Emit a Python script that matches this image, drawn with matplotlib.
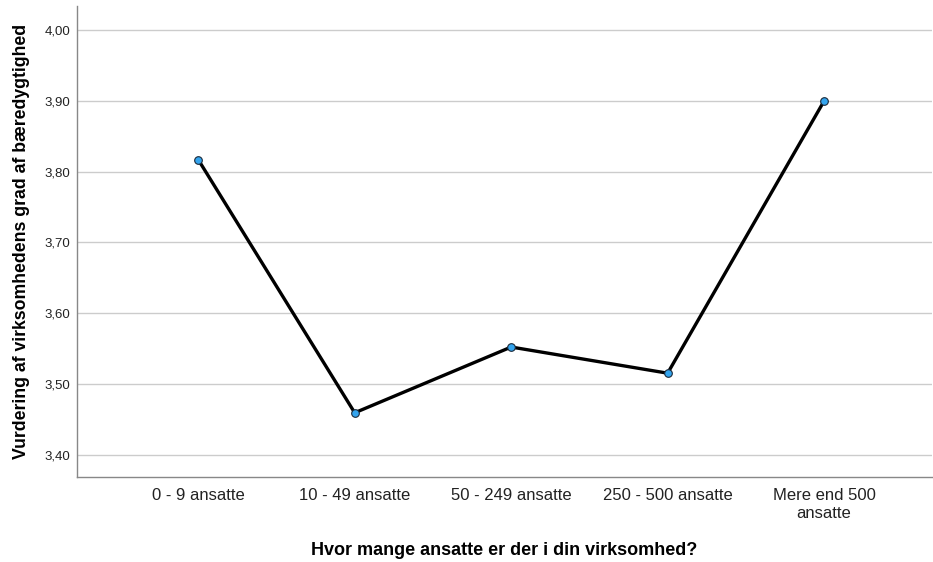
import matplotlib
matplotlib.use("Agg")
import matplotlib.pyplot as plt
from matplotlib.ticker import FixedLocator, FuncFormatter

# Data
categories = ["0 - 9 ansatte", "10 - 49 ansatte", "50 - 249 ansatte",
              "250 - 500 ansatte", "Mere end 500\nansatte"]
values = [3.817, 3.459, 3.552, 3.515, 3.900]
yticks = [3.40, 3.50, 3.60, 3.70, 3.80, 3.90, 4.00]

plt.rcParams['font.family'] = ['Liberation Sans', 'DejaVu Sans']

fig = plt.figure(figsize=(9.33, 5.62), dpi=100)
ax = fig.add_axes([0.0825, 0.151, 0.9165, 0.838])

x = list(range(len(categories)))
ax.plot(x, values, color='black', linewidth=2.4, zorder=3,
        marker='o', markersize=5.5, markerfacecolor='#33a4ee',
        markeredgecolor='#1a2a3a', markeredgewidth=0.8)

ax.set_xlim(-0.775, 4.69)
ax.set_ylim(3.368, 4.034)
ax.yaxis.set_major_locator(FixedLocator(yticks))
ax.yaxis.set_major_formatter(FuncFormatter(lambda v, p: f"{v:.2f}".replace('.', ',')))
ax.set_xticks(x)
ax.set_xticklabels(categories, fontsize=12, color='#222222', linespacing=1.25)
ax.tick_params(axis='y', labelsize=9.5, length=0, pad=5, labelcolor='#222222')
ax.tick_params(axis='x', length=0, pad=8)
ax.grid(axis='y', color='#cccccc', linewidth=1)
ax.set_axisbelow(True)

for side in ['top', 'right']:
    ax.spines[side].set_visible(False)
for side in ['left', 'bottom']:
    ax.spines[side].set_color('#888888')
    ax.spines[side].set_linewidth(1)

ax.set_xlabel("Hvor mange ansatte er der i din virksomhed?", fontsize=13,
              fontweight='bold', labelpad=15)
ax.set_ylabel("Vurdering af virksomhedens grad af bæredygtighed", fontsize=12.7,
              fontweight='bold', labelpad=10)

fig.savefig("out.png", dpi=100)
